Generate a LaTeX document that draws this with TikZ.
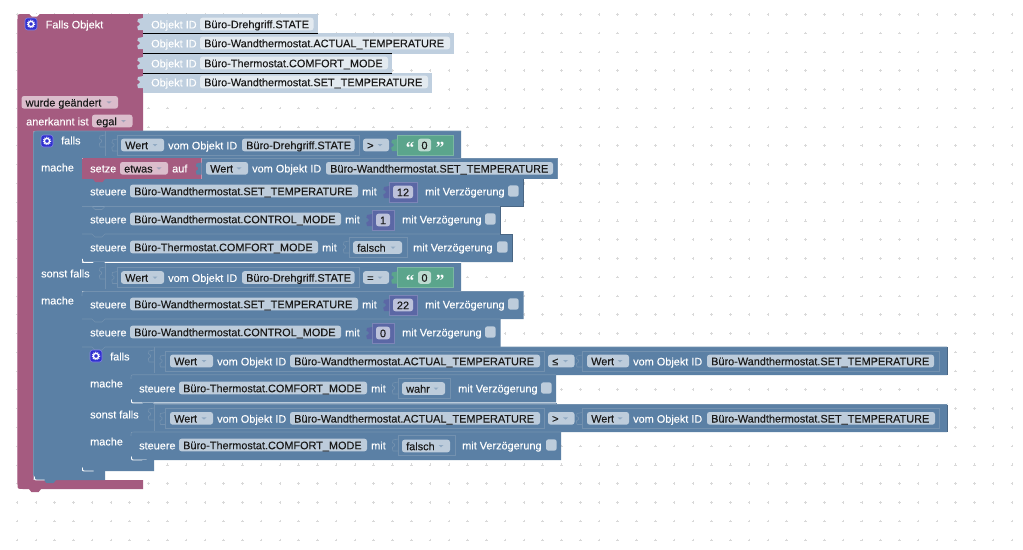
\documentclass[tikz,border=0pt]{standalone}
\usepackage{fontspec}
\setmainfont[FakeBold=0.15]{Liberation Sans}
\newfontfamily\qfont{Liberation Serif}
\definecolor{bb}{HTML}{5B80A5}
\definecolor{bbl}{HTML}{7391AF}
\definecolor{bbd}{HTML}{496684}
\definecolor{bf}{HTML}{BDCCDB}
\definecolor{pk}{HTML}{A55B80}
\definecolor{pkl}{HTML}{C08CA6}
\definecolor{pf}{HTML}{DBBDCC}
\definecolor{lb}{HTML}{BFCFDF}
\definecolor{lbl}{HTML}{D3DEE8}
\definecolor{lf}{HTML}{E3EAF0}
\definecolor{gr}{HTML}{5BA58C}
\definecolor{grl}{HTML}{7CB7A3}
\definecolor{grf}{HTML}{BDDBD1}
\definecolor{pu}{HTML}{5B67A5}
\definecolor{pul}{HTML}{7C85B7}
\definecolor{puf}{HTML}{BDC2DB}
\definecolor{ic}{HTML}{3030D0}
\definecolor{dotc}{HTML}{D9D9D9}
\definecolor{tx}{HTML}{1A1A1A}
\newcounter{nn}
\tikzset{
  lbl/.style={anchor=base west,inner sep=0pt,font=\fontsize{10.9}{13}\selectfont,text=white},
  fldtxt/.style={lbl,text=tx},
  objl/.style={lbl,text=white},
}
% text
\newcommand{\lab}[3]{\stepcounter{nn}\node[lbl] (n\thenn) at (#1,{#2+4.4}) {#3};}
\newcommand{\obl}[2]{\stepcounter{nn}\node[objl] (n\thenn) at (#1,{#2+4.4}) {Objekt ID};}
% field x1 x2 yc colour text
\newcommand{\fld}[5]{\fill[#4,rounded corners=2.5] (#1,{#3-6.3}) rectangle (#2,{#3+6.3});
  \stepcounter{nn}\node[fldtxt] (n\thenn) at ({#1+4},{#3+4.2}) {#5};}
\newcommand{\ddn}[5]{\fld{#1}{#2}{#3}{#4}{#5}
  \fill[#4!55!bb] ({#2-11.5},{#3-1}) -- ({#2-6.5},{#3-1}) -- ({#2-9},{#3+1.4}) -- cycle;}
% block with rounded top-left x1 y1 x2 y2 colour
\newcommand{\blk}[6][0]{\fill[#6] (#2,{#5}) -- (#2,{#3+#1}) .. controls (#2,#3) .. ({#2+#1},#3) -- (#4,#3) -- (#4,#5) -- cycle;}
\newcommand{\edge}[5]{\draw[#5,line width=.7] (#1,#2) -- (#3,#4);}
% seam with tab dip x1 x2 y
\newcommand{\seam}[3]{\draw[bbl,line width=.6] (#1,#3) -- ({#1+10},#3) -- ({#1+13},{#3+3}) -- ({#1+20},{#3+3}) -- ({#1+23},#3) -- (#2,#3);}
% puzzle tab
\newcommand{\ptab}[3]{\fill[#3] (#1,{#2-6}) -- ({#1-5},{#2-5}) .. controls ({#1-6},{#2-2}) .. ({#1-3.5},{#2-1}) -- ({#1-3.5},{#2+1}) .. controls ({#1-6},{#2+2}) .. ({#1-5},{#2+6}) -- (#1,{#2+6}) -- cycle;}
\newcommand{\oltab}[3]{\draw[#3,line width=.6] (#1,{#2-6}) -- ({#1-5},{#2-5}) .. controls ({#1-6},{#2-2}) .. ({#1-3.5},{#2-1}) -- ({#1-3.5},{#2+1}) .. controls ({#1-6},{#2+2}) .. ({#1-5},{#2+6}) -- (#1,{#2+6});}
% socket outline
\newcommand{\sock}[3]{\draw[bbl,line width=.6] (#1,{#3-10}) rectangle (#2,{#3+10}); \oltab{#1}{#3}{bbl}}
% gear
\newcommand{\gear}[2]{\fill[ic,rounded corners=2.5,draw=ic!60!white,line width=.6] ({#1-6},{#2-6}) rectangle ({#1+6},{#2+6});
  \draw[white,line width=1.3] (#1,#2) circle (2.6);
  \draw[white,line width=1.2,dash pattern=on .9pt off 1.14pt] (#1,#2) circle (3.7);}
% checkbox
\newcommand{\cbx}[2]{\fill[bf,rounded corners=2.5] (#1,{#2-5.7}) rectangle ({#1+10.7},{#2+5.7});}
% number input
\newcommand{\numv}[4]{\fill[pu] (#1,{#3-10}) rectangle (#2,{#3+10});
  \draw[pul,line width=.6] (#1,{#3-10}) rectangle (#2,{#3+10}); \ptab{#1}{#3}{pu}
  \fill[puf,rounded corners=2.5] ({#1+4},{#3-6.3}) rectangle ({#2-4},{#3+6.3});
  \stepcounter{nn}\node[fldtxt,anchor=base] (n\thenn) at ({(#1+#2)/2},{#3+4.2}) {#4};}
% string input
\newcommand{\strv}[2]{\fill[gr] (#1,{#2-10}) rectangle ({#1+56},{#2+10});
  \draw[grl,line width=.6] (#1,{#2-10}) rectangle ({#1+56},{#2+10}); \ptab{#1}{#2}{gr}
  \stepcounter{nn}\node[lbl,anchor=base,font=\qfont\bfseries\fontsize{17}{17}\selectfont] (n\thenn) at ({#1+13},{#2+8.5}) {“};
  \stepcounter{nn}\node[lbl,anchor=base,font=\qfont\bfseries\fontsize{17}{17}\selectfont] (n\thenn) at ({#1+43},{#2+8.5}) {”};
  \fill[grf,rounded corners=2.5] ({#1+21},{#2-6.3}) rectangle ({#1+34},{#2+6.3});
  \stepcounter{nn}\node[fldtxt,anchor=base] (n\thenn) at ({#1+27.5},{#2+4.2}) {0};}
% statement white corner
\newcommand{\wcorner}[3]{\draw[white,line width=.9] (#1,{#2-3.5}) .. controls (#1,#2) .. ({#1+3.5},#2) -- ({#1+#3},#2);}
\newcommand{\btab}[3]{\fill[#3] (#1,#2) -- ({#1+2.5},{#2+3.2}) -- ({#1+9.5},{#2+3.2}) -- ({#1+12},#2) -- cycle;}
% steuere row: x y name(x-end) 
\newcommand{\st}[4]{\lab{#1}{#2}{steuere}\fld{#3}{#4}{#2}{bf}}
\newcommand{\mv}[3]{\lab{#1}{#2}{mit Verzögerung}\cbx{#3}{#2}}
\begin{document}
\begin{tikzpicture}[x=1pt,y=-1pt]
\useasboundingbox (0,0) rectangle (1023,549);
\fill[white] (0,0) rectangle (1023,549);
% grid
\foreach \i in {0,...,53}{\foreach \j in {0,...,28}{
  \pgfmathsetmacro{\gx}{17.1+18.77*\i}\pgfmathsetmacro{\gy}{14.3+18.77*\j}
  \draw[dotc,line width=.5] (\gx-1.3,\gy) -- (\gx+1.3,\gy) (\gx,\gy-1.3) -- (\gx,\gy+1.3);
}}
% ---------- pink hat block
\fill[pk] (17.5,19) .. controls (17.5,14) .. (23,14) -- (143,14) -- (143,131) -- (33.5,131) -- (33.5,480) -- (143,480) -- (143,489) -- (23,489) .. controls (17.5,489) .. (17.5,484) -- cycle;
\fill[white] (29.5,14) -- (32,16.5) -- (37,16.5) -- (39.5,14) -- cycle;
\btab{29}{489}{pk}
\draw[pkl,line width=.5] (17.5,19) -- (17.5,484);
\gear{31}{24}
\lab{45.5}{24}{Falls Objekt}
% object rows
\fill[lb] (143,14) rectangle (318,33.3);
\fill[lb] (143,33.3) rectangle (454,53.7);
\fill[lb] (143,53.7) rectangle (392,73);
\fill[lb] (143,73) rectangle (432,92.5);
\draw[lbl,line width=.6] (143,33.3) -- (318,33.3) (143,53.7) -- (392,53.7) (143,73) -- (392,73);
\ptab{143}{24}{lb}\ptab{143}{43}{lb}\ptab{143}{63}{lb}\ptab{143}{82}{lb}
\obl{151}{24}\fld{200}{313.5}{24}{lf}{Büro-Drehgriff.STATE}
\obl{151}{43}\fld{200}{450}{43}{lf}{Büro-Wandthermostat.ACTUAL\_TEMPERATURE}
\obl{151}{63}\fld{200}{388}{63}{lf}{Büro-Thermostat.COMFORT\_MODE}
\obl{151}{82}\fld{200}{428}{82}{lf}{Büro-Wandthermostat.SET\_TEMPERATURE}
\ddn{21.5}{118}{102.3}{pf}{wurde geändert}
\lab{26}{121}{anerkannt ist}\ddn{92}{132.5}{121}{pf}{egal}
% ---------- outer if
\fill[bb] (33.5,136) .. controls (33.5,131) .. (38.5,131) -- (461,131) -- (461,158) -- (82,158) -- (82,263) -- (461,263) -- (461,291) -- (82,291) -- (82,471) -- (105,471) -- (105,480) -- (38.5,480) .. controls (33.5,480) .. (33.5,475) -- cycle;
\draw[bbl,line width=.6] (33.5,475) -- (33.5,136) .. controls (33.5,131) .. (38.5,131) -- (461,131);
\btab{44}{480}{bb}
\wcorner{34.5}{480}{10}
\gear{47}{141}
\lab{61}{140}{falls}
\lab{41}{167}{mache}
\lab{41}{273}{sonst falls}
\lab{41}{300}{mache}
% puzzle input lines
\draw[bbl,line width=.6] (105,131) -- (105,156);\oltab{105}{141}{bbl}
\draw[bbl,line width=.6] (105,263) -- (105,289);\oltab{105}{273}{bbl}
\sock{117.5}{359.5}{145}\sock{117.5}{359.5}{277.5}
\ddn{121}{164}{145}{bf}{Wert}\lab{168}{145}{vom Objekt ID}\fld{242}{354.5}{145}{bf}{Büro-Drehgriff.STATE}
\ddn{363}{389}{145}{bf}{>}\strv{397}{145}
\ddn{121}{164}{277.5}{bf}{Wert}\lab{168}{277.5}{vom Objekt ID}\fld{242}{354.5}{277.5}{bf}{Büro-Drehgriff.STATE}
\ddn{363}{389}{277.5}{bf}{=}\strv{397}{277.5}
% ---------- setze row
\blk[4]{82}{158}{201.5}{180}{pk}
\fill[bb] (201.5,158) rectangle (557.5,179);
\draw[bbl,line width=.6] (201.5,158) -- (557.5,158) -- (557.5,179);
\ptab{201.5}{168.5}{bb}
\lab{90}{168}{setze}\ddn{120}{168}{168.3}{pf}{etwas}\lab{172}{168}{auf}
\ddn{206}{248}{168.3}{bf}{Wert}\lab{252}{168}{vom Objekt ID}\fld{326}{553}{168.3}{bf}{Büro-Wandthermostat.SET\_TEMPERATURE}
% steuere rows 1
\blk{82}{179}{523.5}{206.5}{bb}\blk{82}{206.5}{500.5}{234}{bb}\blk{82}{234}{512.5}{262}{bb}
\btab{93}{179}{pk}
\st{90}{191}{130}{358}{Büro-Wandthermostat.SET\_TEMPERATURE}\lab{362}{191}{mit}\numv{389}{417}{192}{12}\mv{425}{191}{508}
\seam{82}{500.5}{206.5}
\st{90}{219}{130}{341}{Büro-Wandthermostat.CONTROL\_MODE}\lab{345}{219}{mit}\numv{372}{394}{220}{1}\mv{402}{219}{485}
\seam{82}{500.5}{234}
\st{90}{247}{130}{318}{Büro-Thermostat.COMFORT\_MODE}\lab{322}{247}{mit}\sock{349}{407}{247}\ddn{353}{402}{247.5}{bf}{falsch}\mv{413}{247}{497}
\draw[bbd,line width=.5] (523.5,179) -- (523.5,206.5) -- (500.5,206.5) -- (500.5,234) -- (512.5,234) -- (512.5,262);
\wcorner{82.5}{262.3}{378.5}
\fill[bb] (93,262) -- (95.5,265) -- (102.5,265) -- (105,262) -- cycle;
% steuere rows 2
\blk[4]{82}{291.5}{523.5}{319}{bb}\blk{82}{319}{500.5}{347}{bb}
\draw[bbl,line width=.6] (82,296) .. controls (82,291.5) .. (86,291.5) -- (523.5,291.5);
\st{90}{304}{130}{358}{Büro-Wandthermostat.SET\_TEMPERATURE}\lab{362}{304}{mit}\numv{389}{417}{305}{22}\mv{425}{304}{508}
\seam{82}{500.5}{319}
\st{90}{332}{130}{341}{Büro-Wandthermostat.CONTROL\_MODE}\lab{345}{332}{mit}\numv{372}{394}{333}{0}\mv{402}{332}{485}
% ---------- inner if
\fill[bb] (82,347) -- (947,347) -- (947,375) -- (131,375) -- (131,403) -- (947,403) -- (947,432) -- (131,432) -- (131,460) -- (154,460) -- (154,471) -- (87,471) .. controls (82,471) .. (82,466) -- cycle;
\seam{82}{947}{347}
\draw[bbd,line width=.5] (82,375) (947,347) -- (947,375);
\draw[bbd,line width=.5] (947,405) -- (947,432);
\btab{93}{471}{bb}
\wcorner{82.5}{471}{11}
\gear{96}{356}
\lab{110}{356}{falls}
\lab{90}{383}{mache}
\lab{90}{414}{sonst falls}
\lab{90}{441}{mache}
\draw[bbl,line width=.6] (154,347) -- (154,373);\oltab{154}{356}{bbl}
\draw[bbl,line width=.6] (154,405) -- (154,431);\oltab{154}{414}{bbl}
\sock{165.5}{544.5}{361}\sock{165.5}{544.5}{418.5}
\sock{582}{939}{361}\sock{582}{939}{418.5}
\ddn{170}{213}{361}{bf}{Wert}\lab{217}{361}{vom Objekt ID}\fld{290}{540}{361}{bf}{Büro-Wandthermostat.ACTUAL\_TEMPERATURE}
\ddn{548}{574.5}{361}{bf}{≤}
\ddn{587}{629}{361}{bf}{Wert}\lab{633}{361}{vom Objekt ID}\fld{707}{934}{361}{bf}{Büro-Wandthermostat.SET\_TEMPERATURE}
\ddn{170}{213}{418.3}{bf}{Wert}\lab{217}{418.3}{vom Objekt ID}\fld{290}{540}{418.3}{bf}{Büro-Wandthermostat.ACTUAL\_TEMPERATURE}
\ddn{548}{574.5}{418.3}{bf}{>}
\ddn{587}{629}{418.3}{bf}{Wert}\lab{633}{418.3}{vom Objekt ID}\fld{707}{935}{418.3}{bf}{Büro-Wandthermostat.SET\_TEMPERATURE}
% inner steuere
\blk[4]{131}{374.7}{556}{402.5}{bb}
\draw[bbl,line width=.6] (131,379) .. controls (131,374.7) .. (135,374.7) -- (556,374.7);
\lab{139}{388}{steuere}\fld{179}{367}{388}{bf}{Büro-Thermostat.COMFORT\_MODE}\lab{371}{388}{mit}\sock{398}{450}{388}\ddn{402}{445}{388.5}{bf}{wahr}\mv{458}{388}{541}
\wcorner{131.5}{403}{424.5}
\draw[white,line width=1.2] (556.5,403.3) -- (947,403.3);
\fill[bb] (142,402.5) -- (144.5,405.5) -- (151.5,405.5) -- (154,402.5) -- cycle;
\draw[bbl,line width=.6] (154,404.3) -- (947,404.3);
\blk[4]{131}{432}{561}{460}{bb}
\draw[bbl,line width=.6] (131,436) .. controls (131,432) .. (135,432) -- (561,432);
\lab{139}{445}{steuere}\fld{179}{367}{445}{bf}{Büro-Thermostat.COMFORT\_MODE}\lab{371}{445}{mit}\sock{398}{455}{445}\ddn{402}{450}{446}{bf}{falsch}\mv{462}{445}{546}
\wcorner{131.5}{460}{15}
\btab{142}{460}{bb}
\end{tikzpicture}
\end{document}
